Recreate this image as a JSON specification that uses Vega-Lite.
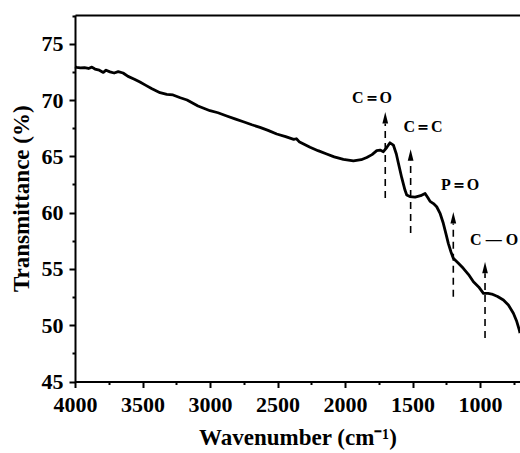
{
  "$schema": "https://vega.github.io/schema/vega-lite/v6.json",
  "width": 445,
  "height": 366.5,
  "autosize": {"type": "none"},
  "padding": {"left": 75, "top": 15, "right": 0, "bottom": 71},
  "config": {
    "view": {"stroke": null},
    "font": "Liberation Serif",
    "axis": {
      "grid": false,
      "domainColor": "black",
      "domainWidth": 2,
      "tickColor": "black",
      "tickWidth": 2,
      "labelFont": "Liberation Serif",
      "labelFontWeight": "bold",
      "labelFontSize": 22,
      "labelColor": "black",
      "labelFlush": false,
      "labelOverlap": false,
      "titleFont": "Liberation Serif",
      "titleFontWeight": "bold",
      "titleFontSize": 23,
      "titleColor": "black"
    }
  },
  "datasets": {
    "spectrum": [
      {"wavenumber": 4000, "transmittance": 72.95},
      {"wavenumber": 3987, "transmittance": 72.9},
      {"wavenumber": 3960, "transmittance": 72.85},
      {"wavenumber": 3930, "transmittance": 72.88},
      {"wavenumber": 3900, "transmittance": 72.8},
      {"wavenumber": 3875, "transmittance": 72.92},
      {"wavenumber": 3852, "transmittance": 72.75},
      {"wavenumber": 3820, "transmittance": 72.65},
      {"wavenumber": 3790, "transmittance": 72.45},
      {"wavenumber": 3770, "transmittance": 72.65},
      {"wavenumber": 3741, "transmittance": 72.5},
      {"wavenumber": 3710, "transmittance": 72.4},
      {"wavenumber": 3680, "transmittance": 72.52},
      {"wavenumber": 3644, "transmittance": 72.4},
      {"wavenumber": 3607, "transmittance": 72.1},
      {"wavenumber": 3560, "transmittance": 71.85},
      {"wavenumber": 3519, "transmittance": 71.6},
      {"wavenumber": 3475, "transmittance": 71.3},
      {"wavenumber": 3430, "transmittance": 71.0},
      {"wavenumber": 3370, "transmittance": 70.65},
      {"wavenumber": 3320, "transmittance": 70.5},
      {"wavenumber": 3274, "transmittance": 70.45},
      {"wavenumber": 3220, "transmittance": 70.2},
      {"wavenumber": 3170, "transmittance": 70.0},
      {"wavenumber": 3089, "transmittance": 69.47},
      {"wavenumber": 3000, "transmittance": 69.05},
      {"wavenumber": 2941, "transmittance": 68.87},
      {"wavenumber": 2876, "transmittance": 68.58},
      {"wavenumber": 2810, "transmittance": 68.3},
      {"wavenumber": 2753, "transmittance": 68.07},
      {"wavenumber": 2690, "transmittance": 67.8},
      {"wavenumber": 2630, "transmittance": 67.57},
      {"wavenumber": 2570, "transmittance": 67.3},
      {"wavenumber": 2506, "transmittance": 66.98},
      {"wavenumber": 2440, "transmittance": 66.75},
      {"wavenumber": 2380, "transmittance": 66.5},
      {"wavenumber": 2360, "transmittance": 66.56},
      {"wavenumber": 2340, "transmittance": 66.3},
      {"wavenumber": 2259, "transmittance": 65.8},
      {"wavenumber": 2200, "transmittance": 65.5},
      {"wavenumber": 2136, "transmittance": 65.2},
      {"wavenumber": 2080, "transmittance": 64.95},
      {"wavenumber": 2012, "transmittance": 64.72},
      {"wavenumber": 1938, "transmittance": 64.6},
      {"wavenumber": 1880, "transmittance": 64.7},
      {"wavenumber": 1839, "transmittance": 64.9},
      {"wavenumber": 1800, "transmittance": 65.15},
      {"wavenumber": 1765, "transmittance": 65.5},
      {"wavenumber": 1740, "transmittance": 65.55},
      {"wavenumber": 1716, "transmittance": 65.41},
      {"wavenumber": 1690, "transmittance": 65.8},
      {"wavenumber": 1667, "transmittance": 66.2},
      {"wavenumber": 1642, "transmittance": 66.0},
      {"wavenumber": 1620, "transmittance": 65.2},
      {"wavenumber": 1605, "transmittance": 64.4},
      {"wavenumber": 1580, "transmittance": 63.1},
      {"wavenumber": 1556, "transmittance": 62.0},
      {"wavenumber": 1543, "transmittance": 61.56},
      {"wavenumber": 1520, "transmittance": 61.42},
      {"wavenumber": 1481, "transmittance": 61.38},
      {"wavenumber": 1440, "transmittance": 61.5},
      {"wavenumber": 1407, "transmittance": 61.7},
      {"wavenumber": 1385, "transmittance": 61.3},
      {"wavenumber": 1370, "transmittance": 61.0},
      {"wavenumber": 1345, "transmittance": 60.8},
      {"wavenumber": 1321, "transmittance": 60.52},
      {"wavenumber": 1295, "transmittance": 59.9},
      {"wavenumber": 1272, "transmittance": 59.05},
      {"wavenumber": 1250, "transmittance": 58.0},
      {"wavenumber": 1235, "transmittance": 57.27},
      {"wavenumber": 1215, "transmittance": 56.5},
      {"wavenumber": 1198, "transmittance": 55.94},
      {"wavenumber": 1160, "transmittance": 55.5},
      {"wavenumber": 1124, "transmittance": 55.05},
      {"wavenumber": 1085, "transmittance": 54.5},
      {"wavenumber": 1049, "transmittance": 53.86},
      {"wavenumber": 1010, "transmittance": 53.4},
      {"wavenumber": 975, "transmittance": 52.83},
      {"wavenumber": 940, "transmittance": 52.82},
      {"wavenumber": 913, "transmittance": 52.77},
      {"wavenumber": 870, "transmittance": 52.55},
      {"wavenumber": 827, "transmittance": 52.24},
      {"wavenumber": 790, "transmittance": 51.8},
      {"wavenumber": 753, "transmittance": 51.06},
      {"wavenumber": 730, "transmittance": 50.4},
      {"wavenumber": 709, "transmittance": 49.57},
      {"wavenumber": 704, "transmittance": 49.3}
    ],
    "peaks": [
      {"bond": "C＝O", "wavenumber": 1702, "tip": 68.93, "base": 67.91, "bottom": 61.3, "labelX": 1800, "labelY": 70.18},
      {"bond": "C＝C", "wavenumber": 1514, "tip": 65.62, "base": 64.6, "bottom": 58.19, "labelX": 1422, "labelY": 67.6},
      {"bond": "P＝O", "wavenumber": 1198, "tip": 60.05, "base": 59.03, "bottom": 52.53, "labelX": 1148, "labelY": 62.45},
      {"bond": "C — O", "wavenumber": 963, "tip": 55.64, "base": 54.62, "bottom": 48.86, "labelX": 896, "labelY": 57.57}
    ]
  },
  "layer": [
    {
      "data": {"name": "spectrum"},
      "mark": {"type": "line", "color": "black", "strokeWidth": 2.8, "strokeJoin": "round"},
      "encoding": {
        "x": {
          "field": "wavenumber", "type": "quantitative",
          "scale": {"domain": [4000, 704], "nice": false, "zero": false},
          "axis": {
            "orient": "bottom",
            "title": "Wavenumber (cm⁻¹)",
            "values": [4000, 3750, 3500, 3250, 3000, 2750, 2500, 2250, 2000, 1750, 1500, 1250, 1000, 750],
            "format": "d",
            "labelExpr": "datum.value % 500 === 0 ? datum.label : ''",
            "tickSize": {"condition": {"test": "datum.value % 500 === 0", "value": 6}, "value": 3},
            "labelPadding": 7,
            "titlePadding": 11
          }
        },
        "y": {
          "field": "transmittance", "type": "quantitative",
          "scale": {"domain": [45, 77.55], "nice": false, "zero": false},
          "axis": {
            "orient": "left",
            "title": "Transmittance (%)",
            "values": [45, 47.5, 50, 52.5, 55, 57.5, 60, 62.5, 65, 67.5, 70, 72.5, 75, 77.5],
            "format": "d",
            "labelExpr": "datum.value % 5 === 0 ? datum.label : ''",
            "tickSize": {"condition": {"test": "datum.value % 5 === 0", "value": 6}, "value": 3},
            "labelPadding": 6,
            "titlePadding": 8
          }
        }
      }
    },
    {
      "data": {"name": "peaks"},
      "mark": {"type": "rule", "color": "black", "strokeWidth": 1.6, "strokeDash": [7, 5]},
      "encoding": {
        "x": {
          "field": "wavenumber", "type": "quantitative",
          "scale": {"domain": [4000, 704], "nice": false, "zero": false},
          "axis": {"orient": "top", "labels": false, "ticks": false, "title": null, "domain": true}
        },
        "y": {"field": "bottom", "type": "quantitative", "scale": {"domain": [45, 77.55], "nice": false, "zero": false}, "axis": null},
        "y2": {"field": "base"}
      }
    },
    {
      "data": {"name": "peaks"},
      "mark": {"type": "point", "shape": "M0,0L0.5,2L-0.5,2Z", "filled": true, "color": "black", "opacity": 1, "size": 132},
      "encoding": {
        "x": {"field": "wavenumber", "type": "quantitative", "scale": {"domain": [4000, 704], "nice": false, "zero": false}, "axis": null},
        "y": {"field": "tip", "type": "quantitative", "scale": {"domain": [45, 77.55], "nice": false, "zero": false}, "axis": null}
      }
    },
    {
      "data": {"name": "peaks"},
      "mark": {"type": "text", "font": "Liberation Serif", "fontWeight": "bold", "fontSize": 16, "color": "black", "align": "center", "baseline": "middle"},
      "encoding": {
        "x": {"field": "labelX", "type": "quantitative", "scale": {"domain": [4000, 704], "nice": false, "zero": false}, "axis": null},
        "y": {"field": "labelY", "type": "quantitative", "scale": {"domain": [45, 77.55], "nice": false, "zero": false}, "axis": null},
        "text": {"field": "bond"}
      }
    }
  ],
  "resolve": {"axis": {"x": "independent", "y": "independent"}}
}
